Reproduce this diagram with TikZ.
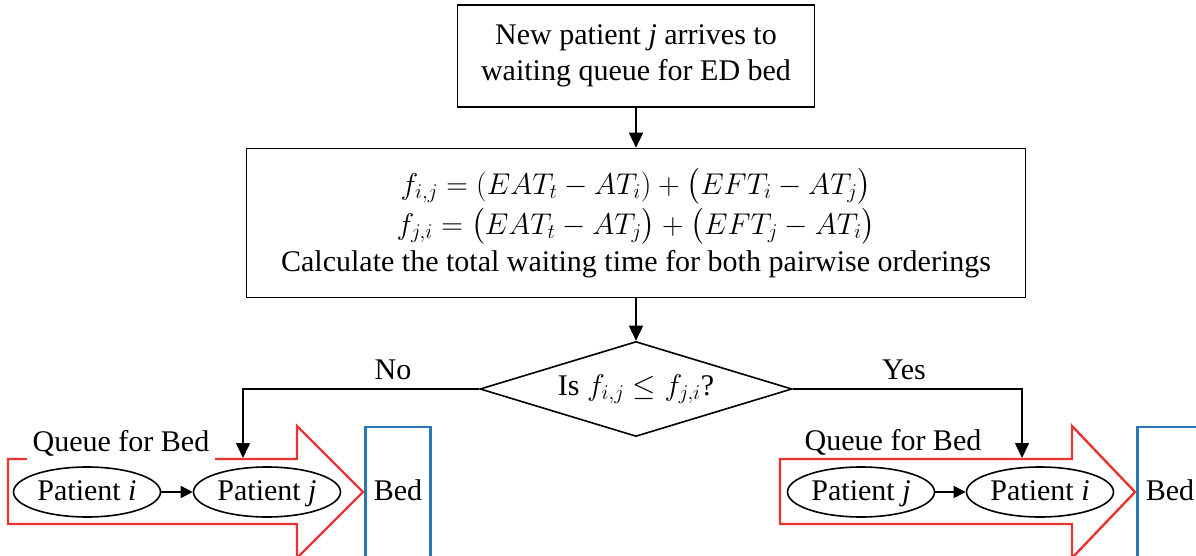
\RequirePackage{fix-cm}
\documentclass[tikz,border=0pt]{standalone}
\usepackage{amsmath,amssymb}
\usepackage{fontspec}
\setmainfont{Liberation Serif}
\usetikzlibrary{arrows.meta,shapes.geometric}
\definecolor{qred}{RGB}{234,51,51}
\definecolor{bedblue}{RGB}{46,117,182}

\begin{document}
\begin{tikzpicture}[x=1pt,y=-1pt,
    font=\fontsize{30}{36}\selectfont,
    box/.style={draw,line width=1.6pt,align=center,inner sep=0pt},
    patient/.style={ellipse,draw,line width=1.6pt,minimum width=147pt,minimum height=50pt,inner sep=0pt,text height=21pt,text depth=5pt},
    bedbox/.style={draw=bedblue,line width=2.6pt,minimum width=65pt,minimum height=130pt,inner sep=0pt,text height=21pt,text depth=5pt},
    queue/.style={draw=qred,line width=2.4pt,line join=miter},
    flow/.style={line width=1.6pt,-{Triangle[length=15pt,width=14pt]}},
    order/.style={line width=1.6pt,-{Triangle[length=12pt,width=12pt]}}]
    \useasboundingbox (0,0) rectangle (1196,556);

    \node[box,minimum width=357pt,minimum height=102pt] (arrive) at (636,56)
        {New patient \textit{j} arrives to\\waiting queue for ED bed};
    \node[box,minimum width=779pt,minimum height=149pt,font=\fontsize{30}{37}\selectfont] (calc) at (636,223)
        {$f_{i,j}=(EAT_t-AT_i)+\bigl(EFT_i-AT_j\bigr)$\\[3pt]
         $f_{j,i}=\bigl(EAT_t-AT_j\bigr)+\bigl(EFT_j-AT_i\bigr)$\\
         Calculate the total waiting time for both pairwise orderings};
    \node[diamond,draw,line width=1.6pt,aspect=3.3,inner sep=0pt,minimum width=312pt,minimum height=95pt] (test) at (636,389)
        {Is $f_{i,j}\le f_{j,i}$?};
    \node (no) at (393,370) {No};
    \node (yes) at (904,370) {Yes};

    \coordinate (noin) at (243,458);
    \coordinate (yesin) at (1022,458);

    \draw[flow] (arrive) -- (calc);
    \draw[flow] (calc) -- (test);
    \draw[flow] (test.west) -| (noin);
    \draw[flow] (test.east) -| (yesin);

    % queue when f_{i,j} > f_{j,i}
    \draw[queue] (8,459) -- (297,459) -- (297,426) -- (363,492) -- (297,558) -- (297,524) -- (8,524) -- cycle;
    \node[fill=white,inner xsep=6pt,inner ysep=8pt] (qleft) at (121,443) {Queue for Bed};
    \node[patient] (pi1) at (87,492) {Patient \textit{i}};
    \node[patient] (pj1) at (267,492) {Patient \textit{j}};
    \draw[order] (pi1) -- (pj1);
    \node[bedbox] (bed1) at (398,492) {Bed};

    % queue when f_{i,j} <= f_{j,i}
    \draw[queue] (780,459) -- (1072,459) -- (1072,426) -- (1135,492) -- (1072,558) -- (1072,524) -- (780,524) -- cycle;
    \node (qright) at (893,442) {Queue for Bed};
    \node[patient] (pj2) at (861,492) {Patient \textit{j}};
    \node[patient] (pi2) at (1040,492) {Patient \textit{i}};
    \draw[order] (pj2) -- (pi2);
    \node[bedbox] (bed2) at (1170,492) {Bed};
\end{tikzpicture}
\end{document}
